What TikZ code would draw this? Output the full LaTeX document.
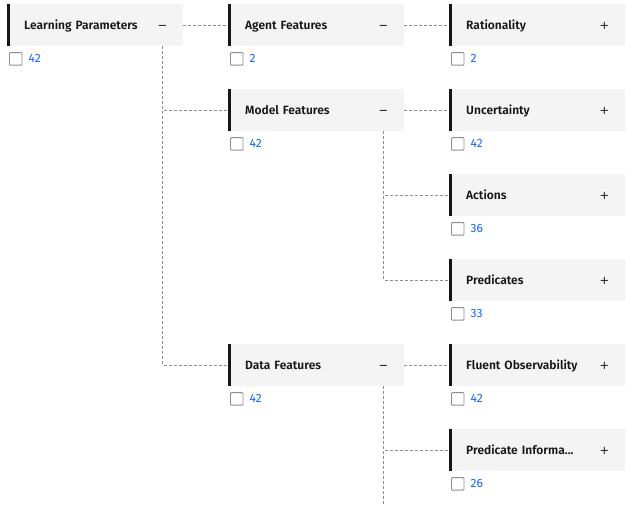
\documentclass[tikz,border=0pt]{standalone}
\usepackage{fontspec}
\setmainfont{Fira Sans}[BoldFont={Fira Sans SemiBold}]
\newfontfamily\signfont{DejaVu Sans}
\usetikzlibrary{positioning}
\definecolor{boxgray}{HTML}{F4F4F4}
\definecolor{inkdark}{HTML}{161616}
\definecolor{linkgray}{HTML}{8D8D8D}
\definecolor{countblue}{HTML}{0F62FE}
\newcommand\truncdots{...}
\tikzset{
	item/.style={fill=boxgray, anchor=west, minimum width=176pt, minimum height=42pt,
		text width=142pt, inner xsep=17pt, align=left, text height=8.4pt, text depth=0pt,
		text=inkdark, font=\fontsize{12}{14}\selectfont\bfseries},
	bar/.style={draw=inkdark, line width=3pt},
	sign/.style={inner sep=0pt, anchor=base, text=inkdark, font=\signfont\fontsize{11.5}{12}\selectfont},
	check/.style={draw=linkgray, line width=0.9pt, minimum size=12.5pt, inner sep=0pt, anchor=north west, rounded corners=0.8pt},
	count/.style={inner sep=0pt, text=countblue, font=\fontsize{12}{14}\selectfont},
	link/.style={draw=linkgray, line width=0.7pt, dash pattern=on 3pt off 2pt}
}
\begin{document}
\begin{tikzpicture}[x=1pt,y=-1pt]
	\useasboundingbox (0,0) rectangle (626,506);

	% tree items: name/column/row/label/sign/count
	\foreach \n/\c/\r/\t/\s/\v in {lp/0/0/Learning Parameters/−/42, af/1/0/Agent Features/−/2,
		mf/1/1/Model Features/−/42, df/1/4/Data Features/−/42, rat/2/0/Rationality/+/2,
		unc/2/1/Uncertainty/+/42, act/2/2/Actions/+/36, pred/2/3/Predicates/+/33,
		flu/2/4/Fluent Observability/+/42, pinf/2/5/Predicate Informa\truncdots/+/26}
	{
		\node [item] (\n) at (7+221*\c, 25+85*\r) {\t};
		\draw [bar] ([xshift=1.5pt]\n.north west) -- ([xshift=1.5pt]\n.south west);
		\node [sign] (\n-s) at ([xshift=-21pt,yshift=-4pt]\n.east) {\s};
		\node [check] (\n-c) at ([xshift=2pt,yshift=-6pt]\n.south west) {};
		\node [count, right=6pt of \n-c] (\n-n) {\v};
	}

	% connectors
	\draw [link] (lp.east) -- (af.west);
	\draw [link] (af.east) -- (rat.west);
	\draw [link] (mf.east) -- (unc.west);
	\draw [link] (df.east) -- (flu.west);
	\draw [link] (lp-s |- lp.south) |- (mf.west);
	\draw [link] (lp-s |- lp.south) |- (df.west);
	\draw [link] (mf-s |- mf.south) |- (act.west);
	\draw [link] (mf-s |- mf.south) |- (pred.west);
	\draw [link] (df-s |- df.south) |- (pinf.west);
	\coordinate (df-end) at (df-s |- 0,506);
	\draw [link] (df-s |- df.south) -- (df-end);
\end{tikzpicture}
\end{document}
